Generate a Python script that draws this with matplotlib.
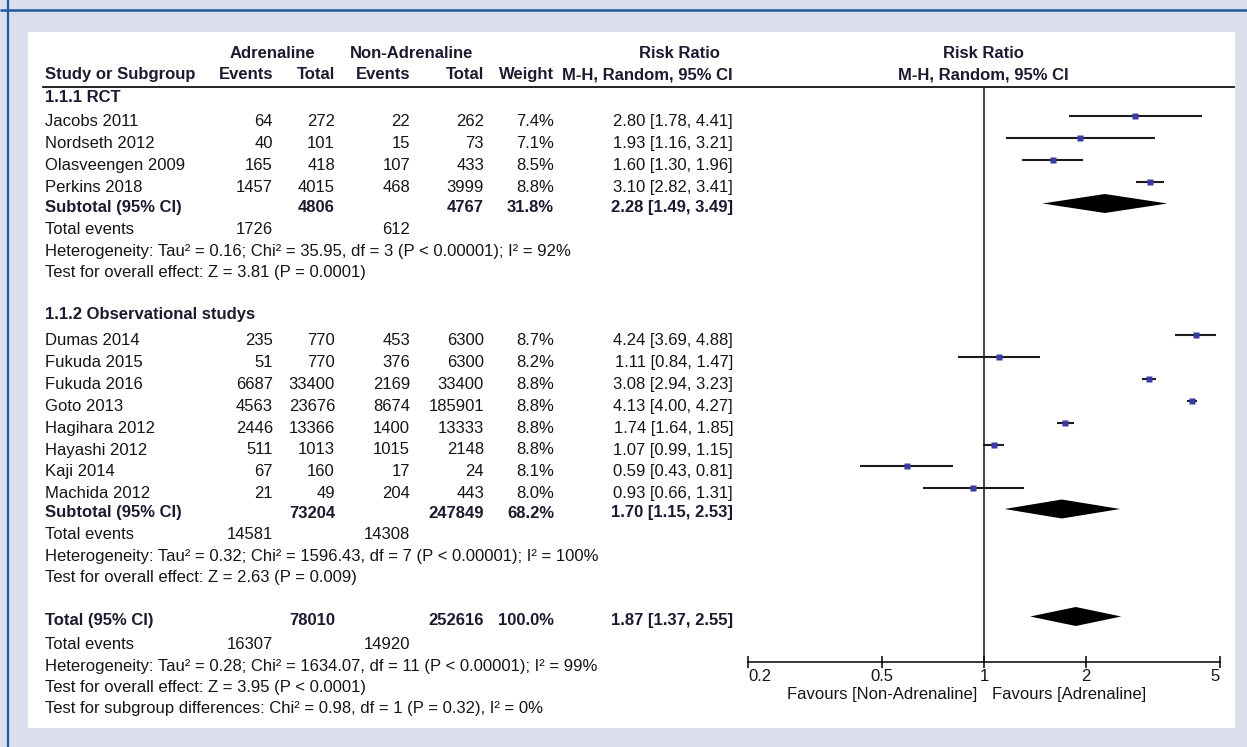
import numpy as np
import matplotlib.pyplot as plt
from matplotlib.patches import Rectangle
from matplotlib.ticker import NullLocator

# study level data, subgroup 1.1.1 (RCT) then 1.1.2 (observational)
rct_names = ["Jacobs 2011", "Nordseth 2012", "Olasveengen 2009", "Perkins 2018"]
rct_ev_adr = [64, 40, 165, 1457]
rct_tot_adr = [272, 101, 418, 4015]
rct_ev_non = [22, 15, 107, 468]
rct_tot_non = [262, 73, 433, 3999]
rct_weight = [7.4, 7.1, 8.5, 8.8]
rct_rr = [2.80, 1.93, 1.60, 3.10]
rct_lo = [1.78, 1.16, 1.30, 2.82]
rct_hi = [4.41, 3.21, 1.96, 3.41]

obs_names = ["Dumas 2014", "Fukuda 2015", "Fukuda 2016", "Goto 2013",
             "Hagihara 2012", "Hayashi 2012", "Kaji 2014", "Machida 2012"]
obs_ev_adr = [235, 51, 6687, 4563, 2446, 511, 67, 21]
obs_tot_adr = [770, 770, 33400, 23676, 13366, 1013, 160, 49]
obs_ev_non = [453, 376, 2169, 8674, 1400, 1015, 17, 204]
obs_tot_non = [6300, 6300, 33400, 185901, 13333, 2148, 24, 443]
obs_weight = [8.7, 8.2, 8.8, 8.8, 8.8, 8.8, 8.1, 8.0]
obs_rr = [4.24, 1.11, 3.08, 4.13, 1.74, 1.07, 0.59, 0.93]
obs_lo = [3.69, 0.84, 2.94, 4.00, 1.64, 0.99, 0.43, 0.66]
obs_hi = [4.88, 1.47, 3.23, 4.27, 1.85, 1.15, 0.81, 1.31]

# pooled estimates: subtotal RCT, subtotal observational, overall
pooled_label = ["Subtotal (95% CI)", "Subtotal (95% CI)", "Total (95% CI)"]
pooled_tot_adr = [4806, 73204, 78010]
pooled_tot_non = [4767, 247849, 252616]
pooled_weight = [31.8, 68.2, 100.0]
pooled_rr = [2.28, 1.70, 1.87]
pooled_lo = [1.49, 1.15, 1.37]
pooled_hi = [3.49, 2.53, 2.55]
pooled_ev_adr = [1726, 14581, 16307]
pooled_ev_non = [612, 14308, 14920]

het_text = [
    "Heterogeneity: Tau\u00b2 = 0.16; Chi\u00b2 = 35.95, df = 3 (P < 0.00001); I\u00b2 = 92%",
    "Heterogeneity: Tau\u00b2 = 0.32; Chi\u00b2 = 1596.43, df = 7 (P < 0.00001); I\u00b2 = 100%",
    "Heterogeneity: Tau\u00b2 = 0.28; Chi\u00b2 = 1634.07, df = 11 (P < 0.00001); I\u00b2 = 99%",
]
effect_text = [
    "Test for overall effect: Z = 3.81 (P = 0.0001)",
    "Test for overall effect: Z = 2.63 (P = 0.009)",
    "Test for overall effect: Z = 3.95 (P < 0.0001)",
]
subgroup_text = "Test for subgroup differences: Chi\u00b2 = 0.98, df = 1 (P = 0.32), I\u00b2 = 0%"

W, H = 1247, 747
FONT = "Liberation Sans"
FS = 12
INK = "#151515"
BOLD_INK = "#1b1b30"
BLUE = "#3a3aa6"

# column right edges (pixels)
X_NAME = 45
X_EV1, X_TOT1, X_EV2, X_TOT2, X_W, X_CI = 273, 335, 410, 484, 554, 733

fig = plt.figure(figsize=(W / 100, H / 100), dpi=100)
fig.patch.set_facecolor("#dadeed")

page = fig.add_axes([0, 0, 1, 1])
page.set_xlim(0, W)
page.set_ylim(H, 0)
page.axis("off")
page.add_patch(Rectangle((28, 32), 1235 - 28, 728 - 32, fc="white", ec="none"))
page.plot([0, W], [9.5, 9.5], color="#1f5aa0", lw=1.8, solid_capstyle="butt")
page.plot([8, 8], [0, H], color="#1f5aa0", lw=1.6, solid_capstyle="butt")


def txt(x, y, s, ha="left", bold=False):
    page.text(x, y, s, ha=ha, va="baseline", fontsize=FS, family=FONT,
              fontweight="bold" if bold else "normal",
              color=BOLD_INK if bold else INK)


# header
txt(272, 58, "Adrenaline", "center", True)
txt(412, 58, "Non-Adrenaline", "center", True)
txt(679, 58, "Risk Ratio", "center", True)
txt(983, 58, "Risk Ratio", "center", True)
txt(X_NAME, 79, "Study or Subgroup", bold=True)
txt(X_EV1, 79, "Events", "right", True)
txt(X_TOT1, 79, "Total", "right", True)
txt(X_EV2, 79, "Events", "right", True)
txt(X_TOT2, 79, "Total", "right", True)
txt(X_W, 79, "Weight", "right", True)
txt(X_CI, 79, "M-H, Random, 95% CI", "right", True)
txt(983, 79, "M-H, Random, 95% CI", "center", True)
page.plot([43, 1234], [87, 87], color="#111111", lw=1.3)

# forest plot axes share the page's pixel rows
AX_L, AX_R, AX_TOP, AX_BOT = 748, 1220, 87, 662
ax = fig.add_axes([AX_L / W, (H - AX_BOT) / H, (AX_R - AX_L) / W, (AX_BOT - AX_TOP) / H])
ax.patch.set_visible(False)
ax.set_xscale("log")
ax.set_xlim(0.2, 5)
ax.set_ylim(AX_BOT, AX_TOP)
for side in ["top", "left", "right"]:
    ax.spines[side].set_visible(False)
ax.spines["bottom"].set_linewidth(1.1)
ax.set_yticks([])
ax.set_xticks([0.2, 0.5, 1, 2, 5])
ax.set_xticklabels(["0.2", "0.5", "1", "2", "5"])
ax.xaxis.set_minor_locator(NullLocator())
ax.tick_params(axis="x", direction="inout", length=8, width=1.1, pad=1,
               labelsize=FS, labelcolor=INK)
for lab in ax.get_xticklabels():
    lab.set_family(FONT)
ax.get_xticklabels()[0].set_ha("left")
ax.get_xticklabels()[-1].set_ha("right")
ax.axvline(1, color="#111111", lw=1.1)


def study_rows(names, ev_a, tot_a, ev_n, tot_n, wt, rr, lo, hi, ys):
    for i, y in enumerate(ys):
        txt(X_NAME, y, names[i])
        txt(X_EV1, y, str(ev_a[i]), "right")
        txt(X_TOT1, y, str(tot_a[i]), "right")
        txt(X_EV2, y, str(ev_n[i]), "right")
        txt(X_TOT2, y, str(tot_n[i]), "right")
        txt(X_W, y, f"{wt[i]:.1f}%", "right")
        txt(X_CI, y, f"{rr[i]:.2f} [{lo[i]:.2f}, {hi[i]:.2f}]", "right")
        ym = y - 10
        ax.hlines(ym, lo[i], hi[i], color="#1c1c1c", lw=1.5)
        ax.plot(rr[i], ym, marker="s", ms=1.45 * np.sqrt(wt[i]), color=BLUE, mec="none")


def pooled_block(k, y_sub, y_ev, y_het, y_z):
    txt(X_NAME, y_sub, pooled_label[k], bold=True)
    txt(X_TOT1, y_sub, str(pooled_tot_adr[k]), "right", True)
    txt(X_TOT2, y_sub, str(pooled_tot_non[k]), "right", True)
    txt(X_W, y_sub, f"{pooled_weight[k]:.1f}%", "right", True)
    txt(X_CI, y_sub, f"{pooled_rr[k]:.2f} [{pooled_lo[k]:.2f}, {pooled_hi[k]:.2f}]", "right", True)
    yd = y_sub - 8.5
    ax.fill([pooled_lo[k], pooled_rr[k], pooled_hi[k], pooled_rr[k]],
            [yd, yd - 9.5, yd, yd + 9.5], color="black", lw=0)
    txt(X_NAME, y_ev, "Total events")
    txt(X_EV1, y_ev, str(pooled_ev_adr[k]), "right")
    txt(X_EV2, y_ev, str(pooled_ev_non[k]), "right")
    txt(X_NAME, y_het, het_text[k])
    txt(X_NAME, y_z, effect_text[k])


txt(X_NAME, 102, "1.1.1 RCT", bold=True)
study_rows(rct_names, rct_ev_adr, rct_tot_adr, rct_ev_non, rct_tot_non,
           rct_weight, rct_rr, rct_lo, rct_hi, [126, 148, 170, 192])
pooled_block(0, 212, 234.5, 256, 277)

txt(X_NAME, 319, "1.1.2 Observational studys", bold=True)
study_rows(obs_names, obs_ev_adr, obs_tot_adr, obs_ev_non, obs_tot_non,
           obs_weight, obs_rr, obs_lo, obs_hi, [345 + 21.9 * i for i in range(8)])
pooled_block(1, 517.5, 539, 560.5, 582)

pooled_block(2, 625, 649, 670.5, 692)
txt(X_NAME, 712.5, subgroup_text)

txt(977, 699, "Favours [Non-Adrenaline]", "right")
txt(992, 699, "Favours [Adrenaline]", "left")

fig.savefig("out.png", dpi=100, facecolor=fig.get_facecolor())
